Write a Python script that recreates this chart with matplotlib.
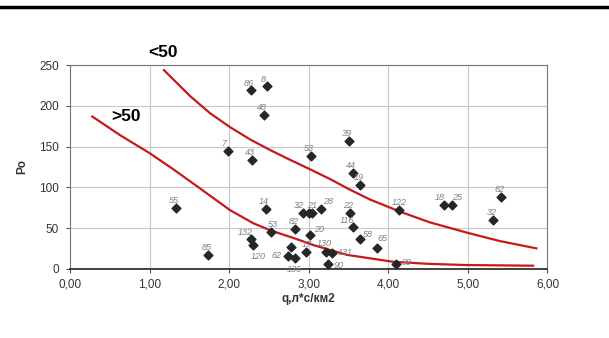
import matplotlib.pyplot as plt
from matplotlib.lines import Line2D

plt.rcParams['font.family'] = ['Liberation Sans', 'DejaVu Sans']

# точки (q, Po) с рукописными номерами
q_pts = [2.27, 2.48, 2.44, 1.99, 2.29, 3.03, 3.50, 3.55, 3.65, 1.33, 2.46,
         2.93, 3.00, 3.04, 3.15, 3.52, 3.55, 3.65, 3.86, 4.13, 4.70, 4.80,
         5.42, 5.32, 4.10, 2.83, 3.01, 2.52, 2.27, 2.30, 1.74, 2.78, 2.74,
         2.83, 2.97, 3.22, 3.29, 3.24]
po_pts = [219, 224, 189, 145, 134, 139, 157, 118, 103, 75, 73,
          68, 68, 68, 73, 69, 51, 36, 25, 72, 78, 78,
          88, 60, 6, 49, 42, 45, 36, 29, 17, 27, 16,
          13, 20, 21, 19, 6]
labels = ['86', '8', '48', '7', '43', '53', '39', '44', '19', '55', '14',
          '32', '21', '', '28', '22', '116', '58', '65', '122', '18', '25',
          '62', '32', '99', '82', '20', '53', '132', '120', '85', '', '62',
          '136', '17', '130', '131', '90']

# кривые
q_lt50 = [1.18, 1.51, 1.76, 2.01, 2.26, 2.51, 2.76, 3.02, 3.27, 3.52, 3.77,
          4.15, 4.52, 5.0, 5.4, 5.86]
po_lt50 = [244, 212, 191, 174, 159, 146, 134, 122, 110, 97, 85,
           70, 57, 44, 34, 25]
q_gt50 = [0.28, 0.63, 1.0, 1.3, 1.6, 2.01, 2.3, 2.52, 2.83, 3.06, 3.48, 4.06,
          4.5, 4.98, 5.82]
po_gt50 = [187, 164, 142, 122, 101, 72, 56, 47, 37, 29, 17, 8.5,
           6, 4.5, 3.7]

xticks = [0, 1, 2, 3, 4, 5, 6]
xtick_labels = ['0,00', '1,00', '2,00', '3,00', '4,00', '5,00', '6,00']
yticks = [0, 50, 100, 150, 200, 250]

# смещения подписей, где они налезают друг на друга
offsets = {11: (-7, 4), 12: (-1, 4), 14: (2, 4), 16: (-9, 3), 17: (2, 2),
           18: (0, 5), 20: (-7, 4), 21: (0, 4), 24: (4, -1), 26: (3, 2),
           27: (-2, 4), 28: (-9, 3), 29: (-2, -10), 32: (-12, -2),
           33: (-6, -10), 34: (-3, 4), 35: (-7, 4), 36: (4, -1), 37: (4, -3)}

fig = plt.figure(figsize=(6.09, 3.38), dpi=100)
ax = fig.add_axes([0.115, 0.205, 0.784, 0.602])

ax.plot(q_lt50, po_lt50, color='#c81818', linewidth=1.6, zorder=3,
        solid_joinstyle='round')
ax.plot(q_gt50, po_gt50, color='#c81818', linewidth=1.6, zorder=3,
        solid_joinstyle='round')
ax.scatter(q_pts, po_pts, marker='D', s=20, color='#262626', zorder=4)

for i, (x, y, t) in enumerate(zip(q_pts, po_pts, labels)):
    if t:
        ax.annotate(t, (x, y), xytext=offsets.get(i, (-5, 3.5)),
                    textcoords='offset points', fontsize=6.5, color='#808080',
                    style='italic', zorder=5)

ax.text(1.17, 266, '<50', fontsize=12.5, fontweight='bold', ha='center',
        va='center', clip_on=False)
ax.text(0.70, 187, '>50', fontsize=12.5, fontweight='bold', ha='center',
        va='center')

ax.set_xlim(0, 6)
ax.set_ylim(0, 250)
ax.set_xticks(xticks)
ax.set_xticklabels(xtick_labels)
ax.set_yticks(yticks)
ax.tick_params(labelsize=8.5, length=3, width=0.8, color='#555555',
               labelcolor='#333333')
ax.tick_params(axis='x', pad=4)
ax.tick_params(axis='y', pad=5)
ax.grid(True, color='#c8c8c8', linewidth=0.8)
for s in ['top', 'right', 'left']:
    ax.spines[s].set_color('#777777')
    ax.spines[s].set_linewidth(0.8)
ax.spines['bottom'].set_color('#222222')
ax.spines['bottom'].set_linewidth(1.2)

ax.set_xlabel('q,л*с/км2', fontsize=8.5, fontweight='bold', color='#333333',
              labelpad=2)
ax.set_ylabel('Po', fontsize=8.5, fontweight='bold', color='#333333', labelpad=8)

fig.add_artist(Line2D([0, 1], [0.979, 0.979], color='black', linewidth=2.5))

fig.savefig('out.png', dpi=100)
